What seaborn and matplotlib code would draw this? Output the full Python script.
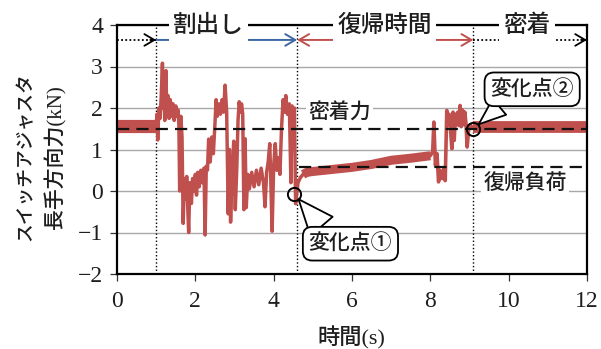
import matplotlib
matplotlib.use("Agg")
import matplotlib.pyplot as plt
import seaborn as sns
import pandas as pd

# ---- load trace (time in s, force in kN) ----
# steady band before indexing starts
pre_t = [0.0, 1.0]
pre_f = [1.57, 1.57]

# indexing phase (割出し): strongly fluctuating trace
idx_t = [1.00, 1.02, 1.04, 1.07, 1.10, 1.13, 1.16, 1.18, 1.20, 1.22, 1.25, 1.27,
         1.30, 1.33, 1.36, 1.40, 1.43, 1.46, 1.50, 1.53, 1.56, 1.58, 1.60, 1.63,
         1.66, 1.69, 1.72, 1.75, 1.78, 1.81, 1.83, 1.86, 1.90, 1.93, 1.96, 2.00,
         2.03, 2.06, 2.10, 2.14, 2.18, 2.22, 2.25, 2.28, 2.31, 2.34, 2.38, 2.42,
         2.46, 2.50, 2.53, 2.56, 2.60, 2.64, 2.68, 2.72, 2.76, 2.80, 2.84, 2.87,
         2.90, 2.94, 2.98, 3.02, 3.06, 3.09, 3.12, 3.15, 3.18, 3.21, 3.24, 3.27,
         3.30, 3.34, 3.38, 3.44, 3.50, 3.56, 3.62, 3.68, 3.74, 3.78, 3.82, 3.86,
         3.90, 3.92, 3.96, 4.00, 4.04, 4.08, 4.12, 4.16, 4.20, 4.24, 4.28, 4.31,
         4.35, 4.40, 4.44, 4.47, 4.50, 4.53, 4.56]
idx_f = [1.57, 1.85, 1.23, 2.00, 1.75, 2.30, 3.08, 2.00, 2.40, 1.70, 2.90, 1.90,
         2.30, 1.75, 2.20, 1.80, 2.10, 1.70, 2.05, 1.80, 1.95, 1.60, 0.00, 1.80,
         1.30, -0.78, 0.30, -0.20, 0.35, -0.50, -1.00, 0.20, -0.30, 0.30, 0.00, 0.40,
         -0.10, 0.45, 0.10, 0.50, 0.20, 0.55, -1.06, 0.60, 0.50, 1.25, 0.70, 1.30,
         0.90, 1.60, 2.20, 1.80, 2.10, 1.85, 2.20, 1.90, 2.55, 1.90, -0.55, 1.00,
         -0.75, 0.40, 1.20, -0.45, 0.60, 1.70, 2.15, 1.90, 2.10, 1.85, -0.45, 1.26,
         -0.40, 0.40, 0.05, 0.45, 0.10, 0.50, 0.15, 0.55, 0.20, -0.38, 0.45, 0.70,
         1.14, 0.50, -0.97, 0.60, 1.14, 0.50, 0.80, 0.40, 1.50, 2.20, 1.90, 2.30,
         1.85, 2.10, 0.20, 2.05, 1.60, 2.00, -0.30]

# recovery phase (復帰時間): slowly rising band
rec_t = [4.56, 4.62, 4.68, 4.75, 4.85, 5.00, 5.50, 6.00, 6.50, 7.00, 7.50, 8.00]
rec_f = [-0.30, 0.20, 0.32, 0.40, 0.45, 0.47, 0.52, 0.57, 0.64, 0.74, 0.79, 0.85]

# re-engagement transient before sealing
tr_t = [8.00, 8.06, 8.09, 8.13, 8.17, 8.21, 8.25, 8.30, 8.35, 8.38, 8.42, 8.45,
        8.48, 8.51, 8.55, 8.58, 8.61, 8.64, 8.67, 8.70, 8.73, 8.76, 8.79, 8.82,
        8.85, 8.88, 8.91, 8.94, 8.98, 9.02, 9.06, 9.10]
tr_f = [0.85, 0.95, 1.66, 0.62, 0.90, 0.22, 0.50, 0.30, 0.55, 0.25, 1.94, 1.60,
        1.85, 1.55, 1.02, 1.90, 1.22, 1.85, 1.60, 1.90, 1.58, 2.06, 1.55, 1.95,
        1.60, 1.90, 1.62, 1.06, 1.50, 1.60, 1.52, 1.55]

# sealed state (密着)
post_t = [9.10, 12.0]
post_f = [1.55, 1.55]

# reference levels
seal_force = 1.50      # 密着力
return_load = 0.58     # 復帰負荷

# phase boundaries
t_start, t_change1, t_change2, t_end = 1.0, 4.6, 9.1, 12.0

x_ticks = [0, 2, 4, 6, 8, 10, 12]
y_ticks = [-2, -1, 0, 1, 2, 3, 4]

# ---- style ----
sns.set_theme(style="white")
plt.rcParams['font.family'] = ['Liberation Serif', 'Noto Sans CJK JP']
JP = ['Noto Sans CJK JP', 'DejaVu Sans']
MIX = ['Liberation Serif', 'Noto Sans CJK JP']
RED = '#C0504D'
BLUE = '#3D67A6'
INK = '#1e1e1e'
WT = 'medium'

fig = plt.figure(figsize=(6.01, 3.49), dpi=100)
ax = fig.add_axes([117 / 601, 1 - 274 / 349, 470 / 601, 249 / 349])

# trace segments
sns.lineplot(x=pre_t, y=pre_f, ax=ax, color=RED, lw=9.5, sort=False,
             estimator=None, solid_capstyle='butt', zorder=3)
sns.lineplot(x=idx_t, y=idx_f, ax=ax, color=RED, lw=2.5, sort=False,
             estimator=None, zorder=3)
sns.lineplot(x=rec_t[:4], y=rec_f[:4], ax=ax, color=RED, lw=2.6, sort=False,
             estimator=None, zorder=3)
sns.lineplot(x=rec_t[3:], y=rec_f[3:], ax=ax, color=RED, lw=6.5, sort=False,
             estimator=None, solid_capstyle='butt', zorder=3)
sns.lineplot(x=tr_t, y=tr_f, ax=ax, color=RED, lw=2.6, sort=False,
             estimator=None, zorder=3)
sns.lineplot(x=post_t, y=post_f, ax=ax, color=RED, lw=8.5, sort=False,
             estimator=None, solid_capstyle='butt', zorder=3)

# axes
ax.set_xlim(0, 12)
ax.set_ylim(-2, 4)
ax.set_xticks(x_ticks)
ax.set_yticks(y_ticks)
ax.set_xlabel('')
ax.set_ylabel('')
ax.yaxis.grid(True, color='#a8a8a8', lw=1.0)
ax.xaxis.grid(False)
ax.set_axisbelow(True)
for s in ax.spines.values():
    s.set_color('black')
    s.set_linewidth(1.6)
    s.set_zorder(6)
ax.tick_params(axis='both', direction='out', length=5, width=0.9, color='#333333',
               labelsize=17, labelcolor=INK, bottom=True, left=True)
ax.tick_params(axis='x', pad=7)
ax.tick_params(axis='y', pad=5)

# phase boundaries
for xb in (t_start, t_change1, t_change2):
    ax.axvline(xb, color='black', lw=1.0, ls=(0, (1, 1.6)), zorder=2)

# reference levels
dash = (0, (5.5, 3.2))
ax.hlines(seal_force, 0, 12, colors='#111111', linestyles=dash, lw=1.6, zorder=4)
ax.hlines(return_load, 4.65, 12, colors='#111111', linestyles=dash, lw=1.6, zorder=4)
ax.text(5.68, 1.88, '密着力', ha='center', va='center', fontsize=15, family=JP,
        weight=WT, color=INK, zorder=5, bbox=dict(fc='white', ec='none', pad=1.5))
ax.text(10.42, 0.20, '復帰負荷', ha='center', va='center', fontsize=15, family=JP,
        weight=WT, color=INK, zorder=5, bbox=dict(fc='white', ec='none', pad=1.5))

# phase arrows
ya = 3.64
hd = dict(mutation_scale=12)
ax.plot([0, t_start], [ya, ya], color='black', lw=1.3, ls=(0, (1, 1.3)), zorder=4)
ax.annotate('', xy=(t_start, ya), xytext=(t_start - 0.15, ya),
            arrowprops=dict(arrowstyle='->,head_length=0.6,head_width=0.35',
                            color='black', lw=1.3, shrinkA=0, shrinkB=0, **hd))
ax.annotate('', xy=(t_change1, ya), xytext=(t_start, ya),
            arrowprops=dict(arrowstyle='->,head_length=0.6,head_width=0.35',
                            color=BLUE, lw=1.4, shrinkA=0, shrinkB=0, **hd))
ax.annotate('', xy=(t_change2, ya), xytext=(t_change1, ya),
            arrowprops=dict(arrowstyle='<->,head_length=0.6,head_width=0.35',
                            color=RED, lw=1.4, shrinkA=0, shrinkB=0, **hd))
ax.plot([t_change2, t_end], [ya, ya], color='black', lw=1.3, ls=(0, (1, 1.3)), zorder=4)
ax.annotate('', xy=(t_end, ya), xytext=(t_end - 0.15, ya),
            arrowprops=dict(arrowstyle='->,head_length=0.6,head_width=0.35',
                            color='black', lw=1.3, shrinkA=0, shrinkB=0, **hd))

# phase names on the top frame
for xc, name in ((2.33, '割出し'), (6.83, '復帰時間'), (10.47, '密着')):
    ax.text(xc, 4.0, name, ha='center', va='center', fontsize=17, family=JP,
            weight=WT, color=INK, zorder=7, clip_on=False,
            bbox=dict(fc='white', ec='none', pad=3))

# change points
for (px, py), (bx, by), label, rel, tw in (
        ((4.52, -0.07), (5.96, -1.27), '変化点①', (0.22, 1.0), 1.4),
        ((9.10, 1.50), (10.6, 2.45), '変化点②', (0.2, 0.0), 1.0)):
    ax.plot(px, py, 'o', ms=9.5, mfc='none', mec='black', mew=1.4, zorder=8)
    ax.annotate(label, xy=(px, py), xytext=(bx, by), ha='center', va='center',
                fontsize=15, family=JP, weight=WT, color=INK, zorder=9,
                bbox=dict(boxstyle='round,pad=0.28,rounding_size=0.45',
                          fc='white', ec='black', lw=1.3),
                arrowprops=dict(arrowstyle=f'wedge,tail_width={tw}', fc='white',
                                ec='black', lw=1.3, relpos=rel, shrinkA=0,
                                shrinkB=5))

# axis titles
fig.text(25 / 601, 0.55, 'スイッチアジャスタ', rotation=90, ha='center', va='center',
         fontsize=13.5, family=JP, weight=WT, color=INK)
fig.text(55 / 601, 0.55, '長手方向力(kN)', rotation=90, ha='center', va='center',
         fontsize=15, family=MIX, weight=WT, color=INK)
fig.text(351 / 601, 1 - 338 / 349, '時間(s)', ha='center', va='center',
         fontsize=16, family=MIX, weight=WT, color=INK)

fig.savefig('out.png', dpi=100)
